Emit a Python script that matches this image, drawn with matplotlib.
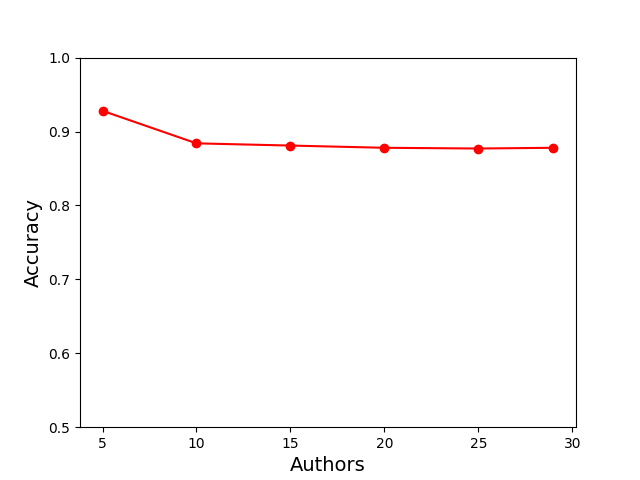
import matplotlib
matplotlib.use("Agg")
import matplotlib.pyplot as plt

authors = [5, 10, 15, 20, 25, 29]
accuracy = [0.928, 0.884, 0.881, 0.878, 0.877, 0.878]

fig, ax = plt.subplots(figsize=(6.4, 4.8), dpi=100)
ax.plot(authors, accuracy, color="red", marker="o")
ax.set_ylim(0.5, 1.0)
ax.set_xlabel("Authors", fontsize=14)
ax.set_ylabel("Accuracy", fontsize=14)
fig.savefig("out.png")
